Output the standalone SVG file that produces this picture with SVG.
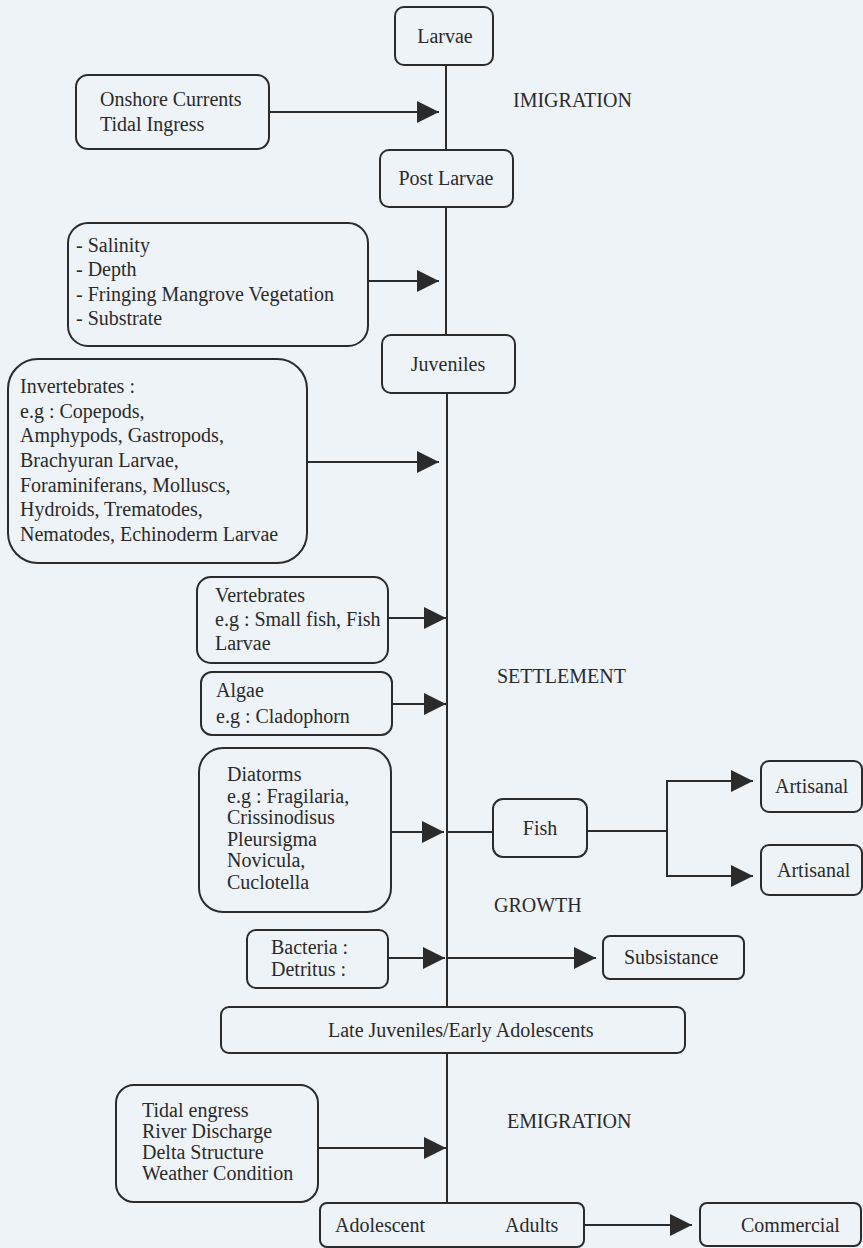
<svg xmlns="http://www.w3.org/2000/svg" width="863" height="1248" viewBox="0 0 863 1248">
<style>
.b{fill:none;stroke:#2b2b2b;stroke-width:2}
.t{font-family:"Liberation Serif","Times New Roman",serif;font-size:20px;fill:#2a2a2a}
.c{stroke:#2b2b2b;stroke-width:2;fill:none}
</style>
<defs>
<marker id="ah" markerUnits="userSpaceOnUse" markerWidth="24" markerHeight="24" refX="22" refY="11" orient="auto">
<path d="M0,0 L22,11 L0,22 Z" fill="#2b2b2b"/>
</marker>
</defs>
<rect width="863" height="1248" fill="#eef3f7"/>

<g id="connectors">
<line class="c" x1="446" y1="65" x2="446" y2="150"/>
<line class="c" x1="446" y1="207" x2="446" y2="335"/>
<line class="c" x1="447" y1="393" x2="447" y2="1007"/>
<line class="c" x1="447" y1="1053" x2="447" y2="1203"/>
<line class="c" x1="269" y1="112" x2="439" y2="112" marker-end="url(#ah)"/>
<line class="c" x1="368" y1="281" x2="439" y2="281" marker-end="url(#ah)"/>
<line class="c" x1="307" y1="462" x2="439" y2="462" marker-end="url(#ah)"/>
<line class="c" x1="388" y1="618" x2="446" y2="618" marker-end="url(#ah)"/>
<line class="c" x1="392" y1="704" x2="446" y2="704" marker-end="url(#ah)"/>
<line class="c" x1="391" y1="832" x2="444" y2="832" marker-end="url(#ah)"/>
<line class="c" x1="447" y1="832" x2="493" y2="832"/>
<line class="c" x1="587" y1="831" x2="667" y2="831"/>
<line class="c" x1="667" y1="780" x2="667" y2="877"/>
<line class="c" x1="666" y1="781" x2="753" y2="781" marker-end="url(#ah)"/>
<line class="c" x1="666" y1="876" x2="753" y2="876" marker-end="url(#ah)"/>
<line class="c" x1="388" y1="958" x2="445" y2="958" marker-end="url(#ah)"/>
<line class="c" x1="447" y1="958" x2="596" y2="958" marker-end="url(#ah)"/>
<line class="c" x1="318" y1="1148" x2="446" y2="1148" marker-end="url(#ah)"/>
<line class="c" x1="584" y1="1225" x2="692" y2="1225" marker-end="url(#ah)"/>
</g>

<g id="larvae"><rect class="b" x="395" y="7" width="98" height="58" rx="9"/><text class="t" x="445" y="43" text-anchor="middle">Larvae</text></g>
<g id="onshore"><rect class="b" x="76" y="75" width="193" height="74" rx="12"/><text class="t" x="100" y="106">Onshore Currents</text><text class="t" x="100" y="131">Tidal Ingress</text></g>
<g id="imigration"><text class="t" x="513" y="107">IMIGRATION</text></g>
<g id="postlarvae"><rect class="b" x="380" y="150" width="133" height="57" rx="9"/><text class="t" x="446" y="185" text-anchor="middle">Post Larvae</text></g>
<g id="factors"><rect class="b" x="68" y="223" width="300" height="123" rx="20"/><text class="t" x="76" y="252">- Salinity</text><text class="t" x="76" y="276">- Depth</text><text class="t" x="76" y="301">- Fringing Mangrove Vegetation</text><text class="t" x="76" y="325">- Substrate</text></g>
<g id="juveniles"><rect class="b" x="382" y="335" width="133" height="58" rx="9"/><text class="t" x="448" y="371" text-anchor="middle">Juveniles</text></g>
<g id="invertebrates"><rect class="b" x="8" y="359" width="299" height="204" rx="30"/><text class="t" x="20" y="393">Invertebrates :</text><text class="t" x="20" y="418">e.g : Copepods,</text><text class="t" x="20" y="442">Amphypods, Gastropods,</text><text class="t" x="20" y="467">Brachyuran Larvae,</text><text class="t" x="20" y="492">Foraminiferans, Molluscs,</text><text class="t" x="20" y="516">Hydroids, Trematodes,</text><text class="t" x="20" y="541">Nematodes, Echinoderm Larvae</text></g>
<g id="vertebrates"><rect class="b" x="197" y="577" width="191" height="86" rx="14"/><text class="t" x="215" y="602">Vertebrates</text><text class="t" x="215" y="626">e.g : Small fish, Fish</text><text class="t" x="215" y="650">Larvae</text></g>
<g id="algae"><rect class="b" x="201" y="672" width="191" height="63" rx="11"/><text class="t" x="216" y="697">Algae</text><text class="t" x="216" y="723">e.g : Cladophorn</text></g>
<g id="settlement"><text class="t" x="497" y="683">SETTLEMENT</text></g>
<g id="diatorms"><rect class="b" x="199" y="748" width="192" height="164" rx="24"/><text class="t" x="227" y="781">Diatorms</text><text class="t" x="227" y="802.6">e.g : Fragilaria,</text><text class="t" x="227" y="824.2">Crissinodisus</text><text class="t" x="227" y="845.8">Pleursigma</text><text class="t" x="227" y="867.4">Novicula,</text><text class="t" x="227" y="889">Cuclotella</text></g>
<g id="fish"><rect class="b" x="493" y="799" width="94" height="58" rx="10"/><text class="t" x="540" y="835" text-anchor="middle">Fish</text></g>
<g id="artisanal1"><rect class="b" x="761" y="761" width="101" height="51" rx="8"/><text class="t" x="775" y="793">Artisanal</text></g>
<g id="artisanal2"><rect class="b" x="761" y="845" width="101" height="50" rx="8"/><text class="t" x="777" y="877">Artisanal</text></g>
<g id="growth"><text class="t" x="494" y="912">GROWTH</text></g>
<g id="bacteria"><rect class="b" x="247" y="930" width="141" height="58" rx="9"/><text class="t" x="271" y="954">Bacteria :</text><text class="t" x="271" y="976">Detritus :</text></g>
<g id="subsistance"><rect class="b" x="603" y="936" width="141" height="43" rx="7"/><text class="t" x="624" y="964">Subsistance</text></g>
<g id="latejuveniles"><rect class="b" x="221" y="1007" width="464" height="46" rx="8"/><text class="t" x="328" y="1037">Late Juveniles/Early Adolescents</text></g>
<g id="emigrationfactors"><rect class="b" x="116" y="1085" width="202" height="117" rx="18"/><text class="t" x="142" y="1117">Tidal engress</text><text class="t" x="142" y="1138">River Discharge</text><text class="t" x="142" y="1159">Delta Structure</text><text class="t" x="142" y="1180">Weather Condition</text></g>
<g id="emigration"><text class="t" x="507" y="1128">EMIGRATION</text></g>
<g id="adults"><rect class="b" x="320" y="1203" width="264" height="44" rx="7"/><text class="t" x="335" y="1232">Adolescent</text><text class="t" x="505" y="1232">Adults</text></g>
<g id="commercial"><rect class="b" x="700" y="1203" width="161" height="43" rx="7"/><text class="t" x="741" y="1232">Commercial</text></g>
</svg>
